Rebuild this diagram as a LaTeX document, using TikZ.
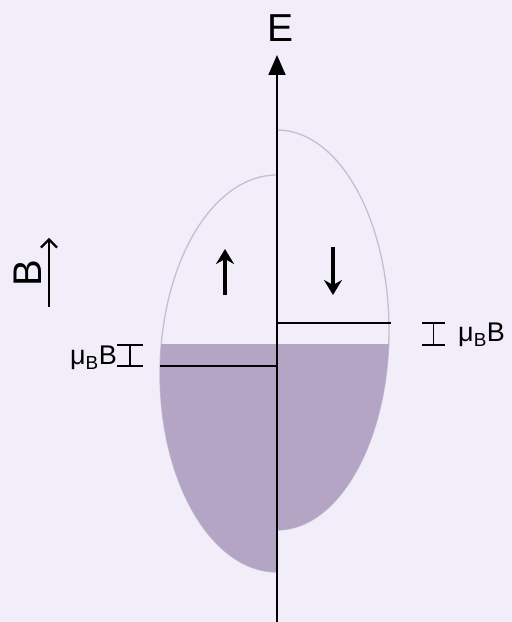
\documentclass[tikz,border=0pt]{standalone}
\usepackage{fontspec}
\setmainfont{Liberation Sans}
\usetikzlibrary{arrows.meta}
\definecolor{pagebg}{RGB}{241,238,250}
\definecolor{bandfill}{RGB}{181,165,197}
\definecolor{rimline}{RGB}{196,189,212}
\tikzset{
  axisline/.style={-{Triangle[length=20pt,width=17pt]}, line width=2pt},
  spinarrow/.style={-{Stealth[length=15pt,width=18pt,inset=5pt]}, line width=3.2pt},
  fieldarrow/.style={-{Straight Barb[length=8pt,width=16pt]}, line width=2.2pt},
  rim/.style={draw=rimline, line width=1.3pt},
  level/.style={line width=1.6pt},
  ibeam/.style={line width=1.6pt},
  smalllbl/.style={font=\fontsize{27}{28}\selectfont, inner sep=0pt}
}

\begin{document}
\begin{tikzpicture}[x=1pt, y=1pt]
  \fill[pagebg] (0,0) rectangle (512,622);
  \useasboundingbox (0,0) rectangle (512,622);

  % spin-down band (right)
  \draw[rim] (277,492) arc[start angle=90, end angle=-90, x radius=112, y radius=200];
  \begin{scope}
    \clip (277,0) rectangle (420,277);
    \fill[bandfill] (277,292) ellipse[x radius=112, y radius=200];
  \end{scope}

  % spin-up band (left)
  \draw[rim] (277,447) arc[start angle=90, end angle=270, x radius=117, y radius=198.5];
  \begin{scope}
    \clip (140,0) rectangle (277,277);
    \fill[bandfill] (277,248.5) ellipse[x radius=117, y radius=198.5];
  \end{scope}

  % band edges
  \coordinate (upl) at (160,256);
  \coordinate (upr) at (277,256);
  \coordinate (dnl) at (277,299);
  \coordinate (dnr) at (391,299);
  \draw[level] (upl) -- (upr);
  \draw[level] (dnl) -- (dnr);

  % energy axis
  \node[font=\fontsize{39}{40}\selectfont, inner sep=0pt] (elbl) at (281,594) {E};
  \coordinate (axbot) at (277,0);
  \coordinate (axtip) at (277,567);
  \draw[axisline] (axbot) -- (axtip);

  % spins
  \coordinate (uptail) at (225,327);
  \coordinate (uphead) at (225,373);
  \coordinate (dntail) at (333,375);
  \coordinate (dnhead) at (333,327);
  \draw[spinarrow] (uptail) -- (uphead);
  \draw[spinarrow] (dntail) -- (dnhead);

  % field
  \node[font=\fontsize{40}{40}\selectfont, inner sep=0pt, rotate=90] (blbl) at (28,349) {B};
  \coordinate (btail) at (49,315);
  \coordinate (bhead) at (49,384);
  \draw[fieldarrow] (btail) -- (bhead);

  % splittings
  \draw[ibeam] (117,256) -- (143,256) (130,256) -- (130,277) (117,277) -- (143,277);
  \node[smalllbl, anchor=east] (mulft) at (117,264) {μ\textsubscript{B}B};
  \draw[ibeam] (422,277) -- (445,277) (433.5,277) -- (433.5,299) (422,299) -- (445,299);
  \node[smalllbl, anchor=west] (murgt) at (458,287) {μ\textsubscript{B}B};
\end{tikzpicture}
\end{document}
